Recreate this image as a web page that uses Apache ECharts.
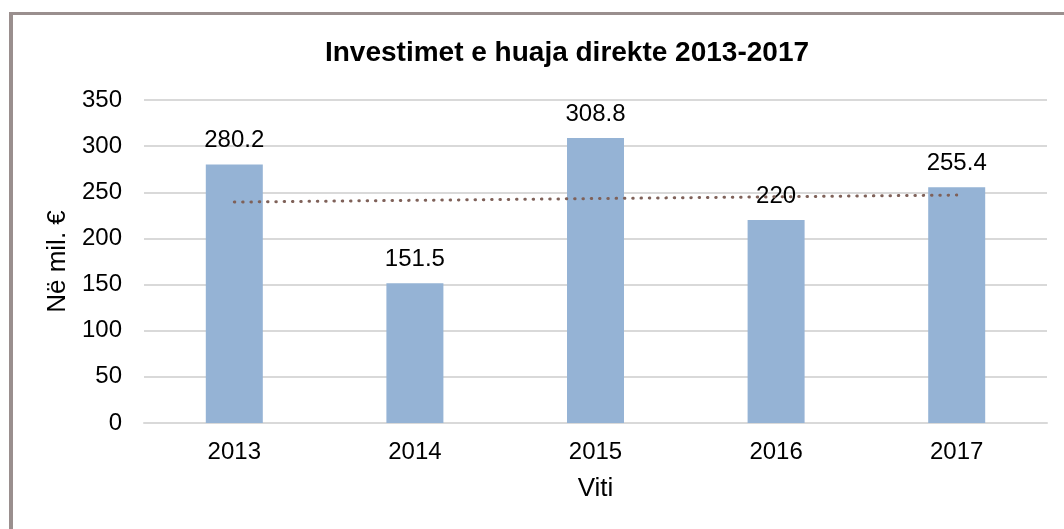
<!DOCTYPE html>
<html>
<head>
<meta charset="utf-8">
<script src="https://cdn.jsdelivr.net/npm/echarts@6/dist/echarts.min.js"></script>
<style>
  html, body { margin: 0; padding: 0; background: #fff; }
  #chart { width: 1064px; height: 529px; }
</style>
</head>
<body>
<div id="chart"></div>
<script>
const years = ['2013', '2014', '2015', '2016', '2017']
const investments = [280.2, 151.5, 308.8, 220, 255.4]
// linear trendline endpoints
const trend = [239.4, null, null, null, 247.0]

const chart = echarts.init(document.getElementById('chart'))

const option = {
  backgroundColor: '#fff',
  animation: false,
  textStyle: { fontFamily: 'Liberation Sans, Arial, sans-serif' },
  title: {
    text: 'Investimet e huaja direkte 2013-2017',
    left: 562,
    textAlign: 'center',
    top: 34,
    textStyle: { fontSize: 28, fontWeight: 'bold', color: '#000', fontFamily: 'Liberation Sans, Arial, sans-serif' }
  },
  graphic: [
    { type: 'rect', shape: { x: 9, y: 12, width: 4, height: 520 }, style: { fill: '#9a8f8e' } },
    { type: 'rect', shape: { x: 9, y: 12, width: 1060, height: 3 }, style: { fill: '#9a8f8e' } }
  ],
  grid: { left: 144, right: 17, top: 100, bottom: 106 },
  xAxis: {
    type: 'category',
    data: years,
    name: 'Viti',
    nameLocation: 'middle',
    nameGap: 53,
    nameTextStyle: { fontSize: 26, color: '#000' },
    axisLine: { lineStyle: { color: '#d9d9d9', width: 2 } },
    axisTick: { show: false },
    axisLabel: { fontSize: 24, color: '#000', margin: 17 }
  },
  yAxis: {
    type: 'value',
    min: 0,
    max: 350,
    interval: 50,
    name: 'Në mil. €',
    nameLocation: 'middle',
    nameGap: 71,
    nameTextStyle: { fontSize: 26, color: '#000' },
    axisLine: { show: false },
    axisTick: { show: false },
    axisLabel: { fontSize: 24, color: '#000', margin: 22 },
    splitLine: { lineStyle: { color: '#d9d9d9', width: 2 } }
  },
  series: [
    {
      type: 'bar',
      data: investments,
      barWidth: 57,
      itemStyle: { color: '#95b3d5' },
      label: { show: true, position: 'top', distance: 12, fontSize: 24, color: '#000' }
    },
    {
      type: 'line',
      data: trend,
      connectNulls: true,
      symbol: 'none',
      z: 3,
      lineStyle: { color: '#7f6159', width: 3, type: [0.5, 7.8], cap: 'round' }
    }
  ]
}

chart.setOption(option)
</script>
</body>
</html>
